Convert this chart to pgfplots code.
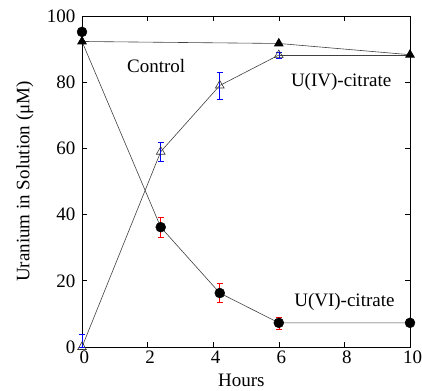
\documentclass[border=0pt]{standalone}
\usepackage{pgfplots}
\pgfplotsset{compat=1.18}
\usepackage{fontspec}
\setmainfont{Liberation Serif}
\newfontfamily\tnr{Liberation Serif}
\newcommand\ff{\tnr\fontsize{19}{19}\selectfont}
\begin{document}
\begin{tikzpicture}
\begin{axis}[
  scale only axis,
  width=328pt, height=331pt,
  xmin=0, xmax=10, ymin=0, ymax=100,
  xtick={0,2,4,6,8,10}, ytick={0,20,40,60,80,100},
  tick align=inside,
  major tick length=5pt,
  axis line style={line width=0.8pt},
  tick style={line width=0.6pt, black},
  /pgf/number format/assume math mode=true,
  tick label style={font=\ff},
  xticklabel style={xshift=2.5pt},
  yticklabel style={xshift=-3pt},
  label style={font=\ff},
  xlabel={Hours},
  xlabel style={at={(axis description cs:0.486,-0.100)}, anchor=center},
  ylabel={Uranium in Solution (μM)},
  ylabel style={at={(axis description cs:-0.174,0.5)}, anchor=center},
  clip=false,
]
% Control
\addplot[black!75, line width=0.6pt, mark=triangle*, mark size=5pt, mark options={fill=black, draw=black}]
  coordinates {(0,92.3) (6,91.7) (10,88.3)};
% U(IV)-citrate
\addplot[black!75, line width=0.6pt, mark=triangle, mark size=5pt, mark options={fill=white, draw=black!80},
  error bars/.cd, y dir=both, y explicit, error bar style={draw=blue, line width=0.6pt}, error mark options={draw=blue, rotate=90, mark size=3pt}]
  coordinates {(0,0) += (0,4) -= (0,0) (2.4,59) +- (0,3) (4.2,79) +- (0,4.1) (6,88.2) +- (0,1)};
\addplot[black!75, line width=0.6pt] coordinates {(6,88.2) (10,88.2)};
% U(VI)-citrate line
\addplot[black!75, line width=0.6pt] coordinates {(0,92.3) (2.4,36.2) (4.2,16.3) (6,7.3) (10,7.3)};
\addplot[only marks, mark=*, mark size=5pt, mark options={fill=black, draw=black},
  error bars/.cd, y dir=both, y explicit, error bar style={draw=red, line width=0.6pt}, error mark options={draw=red, rotate=90, mark size=3pt}]
  coordinates {(0,95.2) (2.4,36.2) +- (0,2.9) (4.2,16.3) +- (0,2.9) (6,7.3) +- (0,1.8) (10,7.3)};
\node[font=\ff] at (axis cs:2.26,84.9) {Control};
\node[font=\ff] at (axis cs:7.9,80) {U(IV)-citrate};
\node[font=\ff] at (axis cs:8.0,13.6) {U(VI)-citrate};
\end{axis}
\pgfresetboundingbox
\path[use as bounding box] ([shift={(-82pt,-43pt)}]current axis.south west) rectangle ([shift={(12pt,16pt)}]current axis.north east);
\end{tikzpicture}
\end{document}
